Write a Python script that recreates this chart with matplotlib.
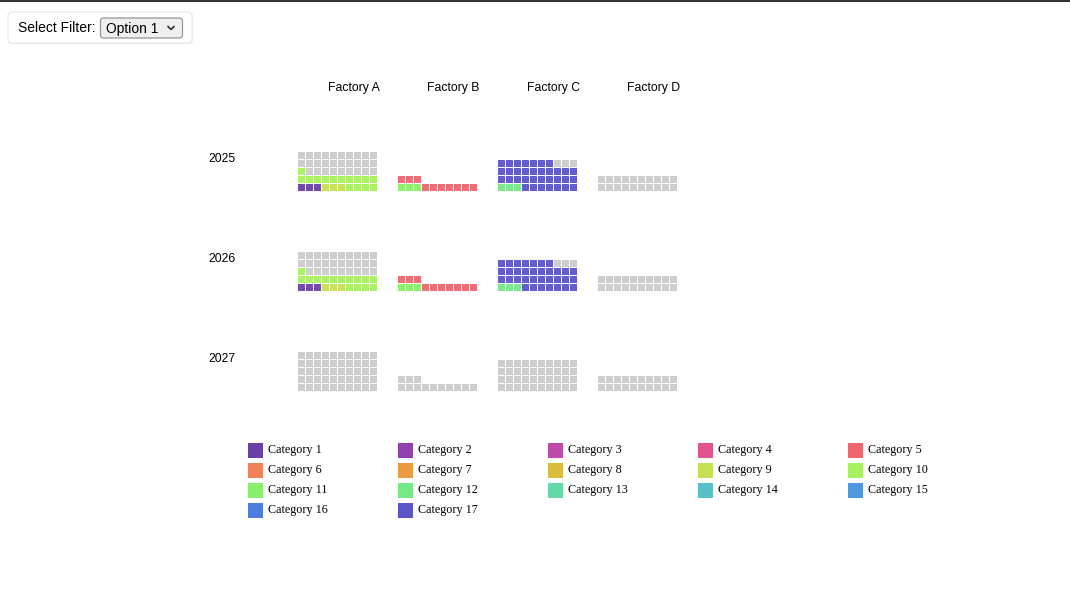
import matplotlib.pyplot as plt
from matplotlib.patches import Rectangle, FancyBboxPatch

# data
factories = ['Factory A', 'Factory B', 'Factory C', 'Factory D']
years = ['2025', '2026', '2027']
capacity = [50, 13, 40, 20]          # cells per factory grid

# (category, cells) in fill order, per year and factory
filled_2025 = [
    [(1, 3), (9, 3), (10, 15)],
    [(11, 3), (5, 10)],
    [(12, 3), (17, 34)],
    [],
]
filled_2026 = [
    [(1, 3), (9, 3), (10, 15)],
    [(11, 3), (5, 10)],
    [(12, 3), (17, 34)],
    [],
]
filled_2027 = [[], [], [], []]
filled = [filled_2025, filled_2026, filled_2027]

categories = ['Category %d' % i for i in range(1, 18)]
cat_colors = [
    '#6a40a6', '#9041b0', '#c04aa8', '#e05590', '#ed6670', '#f08058',
    '#eb9c42', '#d9bd40', '#c5e055', '#a8f060', '#88f068', '#75e888',
    '#65d8a8', '#5bbfc8', '#5098dd', '#4c7ddf', '#5b55c8',
]
empty_color = '#cccccc'

fig = plt.figure(figsize=(10.70, 6.03), dpi=100)
ax = fig.add_axes([0, 0, 1, 1])
ax.set_xlim(0, 1070)
ax.set_ylim(603, 0)
ax.axis('off')

# top border of the page
ax.add_patch(Rectangle((0, 0), 1070, 2, color='#333333', lw=0))

# filter control
ax.add_patch(FancyBboxPatch((9, 13), 184, 31, boxstyle='round,pad=0,rounding_size=4',
                            fc='#eeeeee', ec='none', lw=0))
ax.add_patch(FancyBboxPatch((8, 12), 184, 31, boxstyle='round,pad=0,rounding_size=4',
                            fc='white', ec='#e6e6e6', lw=0.8))
ax.text(18, 28.5, 'Select Filter:', fontsize=10, family='Liberation Sans',
        va='center', ha='left', color='black')
ax.add_patch(FancyBboxPatch((100.5, 18), 82, 20, boxstyle='round,pad=0,rounding_size=3',
                            fc='#efeff0', ec='#8a8a90', lw=0.8))
ax.text(106, 28.5, 'Option 1', fontsize=10, family='Liberation Sans',
        va='center', ha='left', color='black')
ax.plot([168, 171, 174], [26.5, 29.5, 26.5], color='#222222', lw=1.1)

# grid geometry (pixels)
col_x0 = 298
col_step = 100
row_bottom0 = 192
row_step = 100
cell = 8
ncols = 10

for j, name in enumerate(factories):
    ax.text(col_x0 + 55.5 + j * col_step, 88.5, name, fontsize=8.8,
            family='Liberation Sans', ha='center', va='center')

for i, yr in enumerate(years):
    bottom = row_bottom0 + i * row_step
    ax.text(208, 158.5 + i * row_step, yr, fontsize=8.8, family='Liberation Sans',
            ha='left', va='center')
    for j in range(len(factories)):
        cells = []
        for cat, n in filled[i][j]:
            cells += [cat_colors[cat - 1]] * n
        cells += [empty_color] * (capacity[j] - len(cells))
        x0 = col_x0 + j * col_step
        for k, c in enumerate(cells):
            r, cc = divmod(k, ncols)
            ax.add_patch(Rectangle((x0 + cc * cell, bottom - (r + 1) * cell),
                                   cell - 1, cell - 1, fc=c, ec='none', alpha=0.95))

# legend
for k, (lab, c) in enumerate(zip(categories, cat_colors)):
    r, cc = divmod(k, 5)
    lx = 248 + cc * 150
    ly = 450.5 + r * 20
    ax.add_patch(Rectangle((lx, ly - 7.5), 15, 15, fc=c, ec='none'))
    ax.text(lx + 20, ly, lab, fontsize=8.7, family='Liberation Serif',
            ha='left', va='center', color='black')

fig.savefig('out.png', dpi=100)
plt.close(fig)
